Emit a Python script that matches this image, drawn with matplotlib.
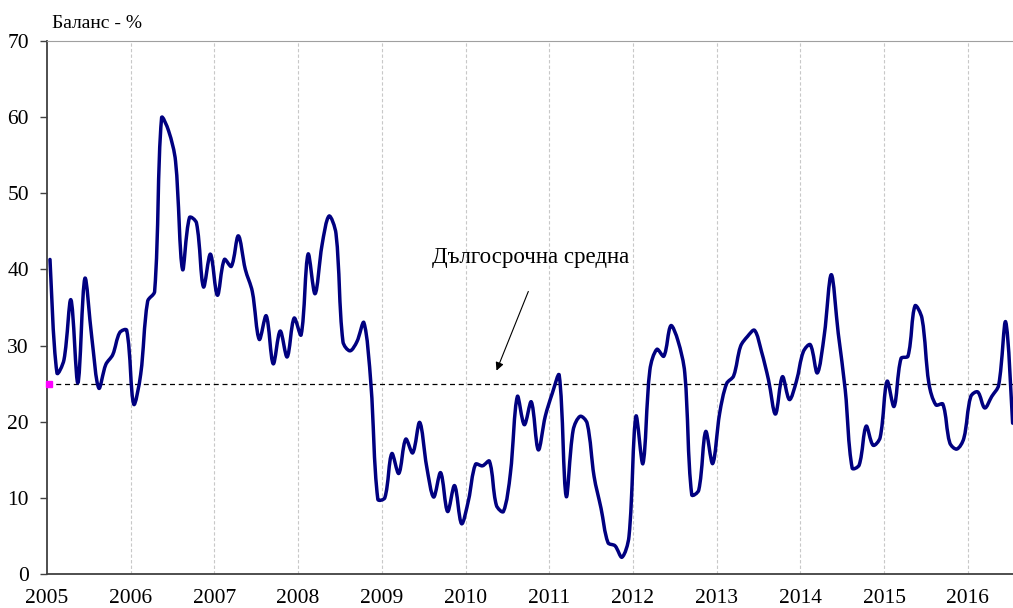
import numpy as np
import matplotlib
matplotlib.use("Agg")
import matplotlib.pyplot as plt
from matplotlib.path import Path
from matplotlib.patches import PathPatch

plt.rcParams["font.family"] = ["Liberation Serif", "DejaVu Serif"]

# monthly balance, Jan 2005 .. Jul 2016
start_year = 2005
balance = [
    41.3, 26.4, 28.1, 36.0, 25.1, 38.8, 31.0, 24.4, 27.5, 28.8, 31.7, 32.0,
    22.3, 26.2, 35.8, 37.1, 59.9, 58.2, 54.2, 40.0, 46.8, 46.1, 37.7, 42.0,
    36.6, 41.3, 40.4, 44.4, 40.0, 37.1, 30.8, 33.9, 27.6, 31.9, 28.5, 33.6,
    31.4, 42.0, 36.8, 43.2, 47.0, 44.7, 30.5, 29.3, 30.5, 33.0, 25.0, 9.8,
    10.0, 15.8, 13.2, 17.7, 15.9, 19.9, 14.1, 10.1, 13.3, 8.2, 11.6, 6.6,
    9.7, 14.4, 14.2, 14.8, 9.0, 8.2, 13.2, 23.3, 19.6, 22.6, 16.3, 20.7,
    23.7, 26.1, 10.2, 18.9, 20.7, 19.8, 12.8, 8.6, 4.1, 3.7, 2.2, 4.9,
    20.7, 14.5, 26.8, 29.5, 28.6, 32.6, 30.7, 26.4, 10.4, 11.0, 18.7, 14.5,
    21.1, 25.0, 26.0, 29.9, 31.2, 32.0, 29.2, 25.5, 21.0, 25.9, 22.9, 25.3,
    29.2, 30.1, 26.4, 31.4, 39.3, 31.6, 24.2, 13.9, 14.3, 19.4, 16.9, 17.9,
    25.3, 22.0, 28.3, 28.6, 35.2, 33.6, 25.0, 22.2, 22.3, 17.2, 16.4, 17.8,
    23.3, 23.9, 21.8, 23.3, 24.8, 33.1, 19.8,
]
long_term_avg = 25.0
years = list(range(2005, 2017))
y_ticks = [0, 10, 20, 30, 40, 50, 60, 70]

months = np.arange(len(balance))
x = start_year + months / 12 + 13 / 365
y = np.array(balance)


def smooth_path(ax, xs, ys, tension=1 / 3):
    # smoothed line like Excel: Bezier segments, tangents weighted by
    # on-screen segment length so short flat steps don't overshoot
    pts = ax.transData.transform(np.column_stack([xs, ys]))
    n = len(pts)
    tang = []
    for i in range(n):
        p0 = pts[max(i - 1, 0)]
        p2 = pts[min(i + 1, n - 1)]
        tang.append(p2 - p0)
    verts = [pts[0]]
    codes = [Path.MOVETO]
    for i in range(n - 1):
        p1, p2 = pts[i], pts[i + 1]
        d12 = np.hypot(*(p2 - p1))
        d01 = np.hypot(*(p1 - pts[i - 1])) if i > 0 else d12
        d23 = np.hypot(*(pts[i + 2] - p2)) if i + 2 < n else d12
        c1 = p1 + tang[i] * tension * d12 / (d01 + d12)
        c2 = p2 - tang[i + 1] * tension * d12 / (d12 + d23)
        verts += [c1, c2, p2]
        codes += [Path.CURVE4] * 3
    verts = ax.transData.inverted().transform(np.array(verts))
    return Path(verts, codes)


fig = plt.figure(figsize=(10.13, 6.08), dpi=100)
ax = fig.add_axes([0.0464, 0.056, 0.9536, 0.8767])

ax.set_xlim(2005, 2016.54)
ax.set_ylim(0, 70)

for yr in years[1:]:
    ax.axvline(yr, color="#c8c8c8", lw=0.8, ls=(0, (3, 2)), zorder=0)

ax.axhline(long_term_avg, color="black", lw=0.9, ls=(0, (4, 3)), zorder=2)
ax.plot([2005.02], [long_term_avg], marker="s", ms=4, color="#ff00ff",
        clip_on=False, zorder=3)

ax.add_patch(PathPatch(smooth_path(ax, x, y), fill=False, edgecolor="#000080",
                       lw=2.5, capstyle="round", joinstyle="round", zorder=4))

ax.set_xticks(years)
ax.set_xticklabels([str(v) for v in years])
ax.set_yticks(y_ticks)
ax.tick_params(axis="x", length=0, pad=11, labelsize=15.5)
ax.tick_params(axis="y", direction="out", length=5, width=1, pad=8,
               labelsize=15.5, color="#404040")

for side in ["left", "bottom"]:
    ax.spines[side].set_color("#404040")
    ax.spines[side].set_linewidth(1.3)
ax.spines["top"].set_color("#a0a0a0")
ax.spines["top"].set_linewidth(0.8)
ax.spines["right"].set_visible(False)

fig.text(0.051, 0.962, "Баланс - %", fontsize=14, ha="left", va="center")

ax.text(2010.78, 41.5, "Дългосрочна средна", fontsize=16.5, ha="center",
        va="center")
ax.annotate("", xy=(2010.37, 26.7), xytext=(2010.75, 37.1),
            arrowprops=dict(arrowstyle="-|>", color="black", lw=0.8,
                            mutation_scale=12, shrinkA=0, shrinkB=0))

fig.savefig("out.png", dpi=100)
